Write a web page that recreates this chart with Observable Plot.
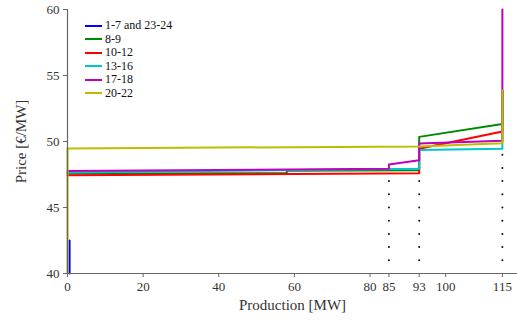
<!DOCTYPE html>
<html>
<head>
<meta charset="utf-8">
<script src="https://cdn.jsdelivr.net/npm/d3@7"></script>
<script src="https://cdn.jsdelivr.net/npm/@observablehq/plot@0.6"></script>
<style>
  html, body { margin: 0; padding: 0; background: #fff; }
  #wrap { position: relative; width: 517px; height: 321px; font-family: "Liberation Serif", "Times New Roman", serif; }
  #legend { position: absolute; left: 85px; top: 19px; font-size: 12px; color: #111; line-height: 13.5px; }
  #legend div { display: flex; align-items: center; height: 13.5px; white-space: nowrap; }
  #legend svg { margin-right: 3px; }
</style>
</head>
<body>
<div id="wrap"><div id="legend"></div></div>
<script>
const series = ["1-7 and 23-24", "8-9", "10-12", "13-16", "17-18", "20-22"];
const colors = ["#0000ff", "#008a00", "#ff0000", "#00c8c8", "#c000c0", "#bdbd00"];

// production (MW) and price (€/MW) vertices for each series
const prod_1_7  = [0.55, 0.55];
const price_1_7 = [40, 42.5];
const prod_8_9  = [0, 58, 58, 93, 93, 115, 115];
const price_8_9 = [47.58, 47.6, 47.78, 47.82, 50.35, 51.33, 53.85];
const prod_10_12  = [0, 93, 93, 115, 115];
const price_10_12 = [47.44, 47.6, 49.45, 50.75, 53.85];
const prod_13_16  = [0, 93, 93, 115, 115];
const price_13_16 = [47.66, 47.93, 49.35, 49.45, 53.85];
const prod_17_18  = [0, 85, 85, 93, 93, 115, 115];
const price_17_18 = [47.76, 47.93, 48.25, 48.58, 49.85, 50.05, 60];
const prod_20_22  = [0, 0, 93, 115, 115];
const price_20_22 = [40, 49.47, 49.63, 49.87, 53.87];

// dotted guide lines
const guideX   = [85, 93, 115];
const guideTop = [47, 47, 49];

const xTicks = [0, 20, 40, 60, 80, 85, 93, 100, 115];
const yTicks = [40, 45, 50, 55, 60];

const prods  = [prod_1_7, prod_8_9, prod_10_12, prod_13_16, prod_17_18, prod_20_22];
const prices = [price_1_7, price_8_9, price_10_12, price_13_16, price_17_18, price_20_22];

const rows = [];
series.forEach((s, i) => prods[i].forEach((x, j) => rows.push({s, x, y: prices[i][j]})));

const dots = [];
guideX.forEach((x, i) => { for (let p = 41; p <= guideTop[i]; p++) dots.push({x, y: p}); });

const xMax = 119;
const axisColor = "#666";

const chart = Plot.plot({
  width: 517,
  height: 321,
  marginLeft: 67,
  marginRight: 0,
  marginTop: 9,
  marginBottom: 48,
  style: {fontFamily: "'Liberation Serif', 'Times New Roman', serif", fontSize: "13px", color: "#333", background: "#fff"},
  x: {domain: [0, xMax]},
  y: {domain: [40, 60]},
  color: {domain: series, range: colors},
  marks: [
    Plot.dot(dots, {x: "x", y: "y", r: 1, fill: "#111", stroke: null}),
    Plot.line(rows, {x: "x", y: "y", z: "s", stroke: "s", strokeWidth: 2, curve: "linear"}),
    Plot.ruleX([0], {y1: 40, y2: 60, stroke: axisColor, strokeWidth: 1.2}),
    Plot.ruleY([40], {x1: 0, x2: xMax, stroke: axisColor, strokeWidth: 1.2}),
    Plot.axisX({ticks: xTicks, tickFormat: d => String(d), tickSize: 4, tickPadding: 4, stroke: axisColor, fontSize: 13,
      label: "Production [MW]", labelAnchor: "center", labelArrow: "none", labelOffset: 36, fill: "#333"}),
    Plot.axisY({ticks: yTicks, tickSize: 4, tickPadding: 4, stroke: axisColor, fontSize: 13,
      label: "Price [€/MW]", labelAnchor: "center", labelArrow: "none", labelOffset: 52, fill: "#333"})
  ]
});
chart.style.position = "absolute";
chart.style.left = "0px";
chart.style.top = "0px";
const wrap = document.getElementById("wrap");
wrap.insertBefore(chart, wrap.firstChild);
chart.querySelectorAll("[aria-label='x-axis label'] text, [aria-label='y-axis label'] text").forEach(t => t.setAttribute("font-size", "15"));

const legend = document.getElementById("legend");
series.forEach((s, i) => {
  const row = document.createElement("div");
  row.innerHTML = `<svg width="17" height="4"><line x1="0" x2="17" y1="2" y2="2" stroke="${colors[i]}" stroke-width="2"/></svg><span>${s}</span>`;
  legend.appendChild(row);
});
</script>
</body>
</html>
